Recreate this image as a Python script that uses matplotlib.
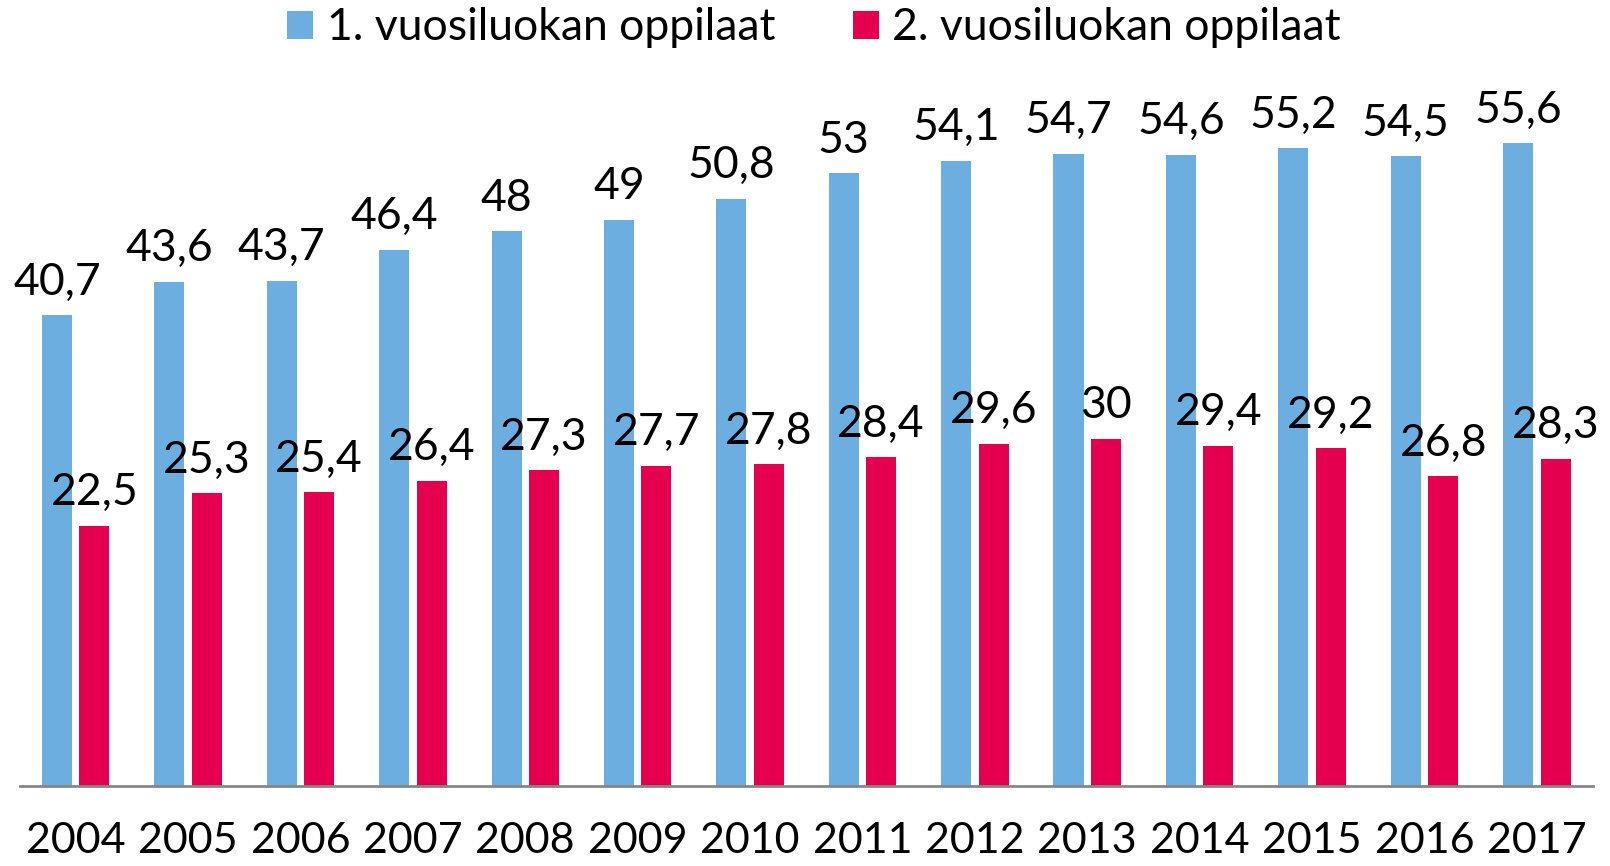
import matplotlib.pyplot as plt
import numpy as np

years = ['2004', '2005', '2006', '2007', '2008', '2009', '2010',
         '2011', '2012', '2013', '2014', '2015', '2016', '2017']
luokka1 = [40.7, 43.6, 43.7, 46.4, 48, 49, 50.8, 53, 54.1, 54.7, 54.6, 55.2, 54.5, 55.6]
luokka2 = [22.5, 25.3, 25.4, 26.4, 27.3, 27.7, 27.8, 28.4, 29.6, 30, 29.4, 29.2, 26.8, 28.3]
series_names = ['1. vuosiluokan oppilaat', '2. vuosiluokan oppilaat']

blue = '#6CAEE0'
red = '#E5004F'

plt.rcParams['font.family'] = ['Lato', 'DejaVu Sans']

W, H = 1610, 866
fig = plt.figure(figsize=(W / 100, H / 100), dpi=100)
# axes placed in pixel terms
left, right, bottom, top = 19.5, 1593, 80.5, 866 - 92.5
ax = fig.add_axes([left / W, bottom / H, (right - left) / W, (top - bottom) / H])

x = np.arange(len(years))
w = 0.267
b1 = ax.bar(x - 0.1667, luokka1, w, color=blue, label=series_names[0])
b2 = ax.bar(x + 0.1667, luokka2, w, color=red, label=series_names[1])


def fmt(v):
    s = f'{v:g}'
    return s.replace('.', ',')


ax.bar_label(b1, labels=[fmt(v) for v in luokka1], padding=9, fontsize=32)
ax.bar_label(b2, labels=[fmt(v) for v in luokka2], padding=9, fontsize=32)

ax.set_xlim(-0.5, len(years) - 0.5)
ax.set_ylim(0, 60)
ax.set_xticks(x)
ax.set_xticklabels(years, fontsize=31)
ax.tick_params(axis='x', length=0, pad=26)
ax.set_yticks([])
for s in ['top', 'right', 'left']:
    ax.spines[s].set_visible(False)
ax.spines['bottom'].set_color('#868686')
ax.spines['bottom'].set_linewidth(2)

fig.legend(loc='upper center', bbox_to_anchor=(814 / W, 1.012), ncol=2, frameon=False,
           fontsize=32, handlelength=0.58, handleheight=0.58, handletextpad=0.3,
           columnspacing=1.75, borderaxespad=0.0)

fig.savefig('out.png', dpi=100)
